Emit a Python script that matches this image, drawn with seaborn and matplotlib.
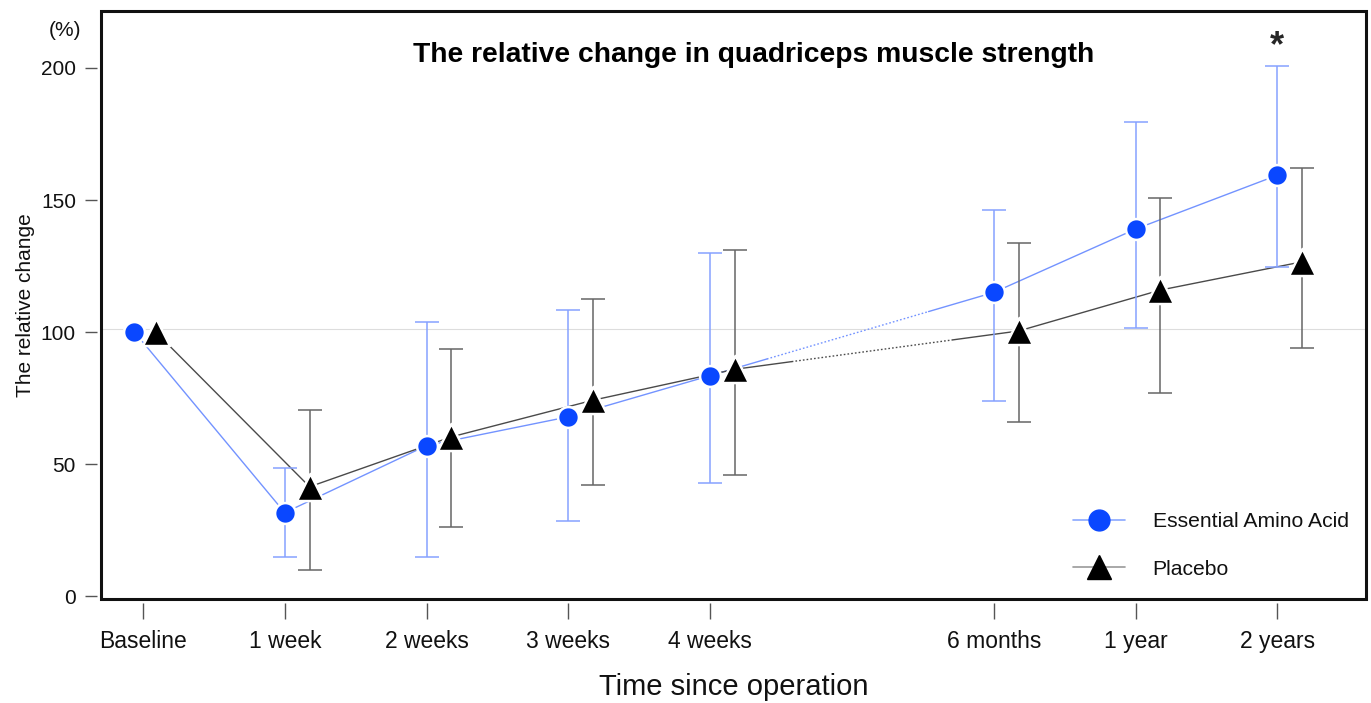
import numpy as np
import pandas as pd
import seaborn as sns
import matplotlib
matplotlib.use("Agg")
import matplotlib.pyplot as plt
from matplotlib.lines import Line2D
from matplotlib.patches import Rectangle

# data
time_labels = ['Baseline', '1 week', '2 weeks', '3 weeks', '4 weeks', '6 months', '1 year', '2 years']
time_pos = [0, 1, 2, 3, 4, 6, 7, 8]

eaa_mean = [100, 31.6, 57.0, 67.9, 83.5, 115.0, 139.0, 159.4]
eaa_upper = [np.nan, 48.5, 103.7, 108.2, 130.0, 146.3, 179.4, 200.8]
eaa_lower = [np.nan, 14.7, 14.9, 28.5, 42.9, 73.7, 101.4, 124.5]

plc_mean = [100, 41.4, 60.3, 74.2, 85.9, 100.4, 115.9, 126.6]
plc_upper = [np.nan, 70.3, 93.7, 112.5, 131.0, 133.8, 150.8, 162.0]
plc_lower = [np.nan, 9.8, 26.0, 42.2, 45.8, 66.0, 76.8, 93.9]

sns.set_theme(style='white')
plt.rcParams['font.family'] = ['Liberation Sans', 'DejaVu Sans']

blue = '#0a47ff'
blue_line = '#7393ff'
blue_err = '#86a2ff'
grey_line = '#4a4a4a'
grey_err = '#666666'
txt = '#111111'

fig = plt.figure(figsize=(13.71, 7.03), dpi=100)
ax = fig.add_axes([101/1371, 1 - 599/703, 1265/1371, 588.3/703])

# small horizontal shifts so the two groups don't overlap
eaa_x = np.array(time_pos, dtype=float) + np.array([-0.06, 0, 0, 0, 0, 0, 0, 0])
plc_x = np.array(time_pos, dtype=float) + np.array([0.09, 0.175, 0.175, 0.175, 0.175, 0.175, 0.175, 0.175])

groups = [
    ('Essential Amino Acid', eaa_x, np.array(eaa_mean), np.array(eaa_lower), np.array(eaa_upper), blue_line, blue_err),
    ('Placebo', plc_x, np.array(plc_mean), np.array(plc_lower), np.array(plc_upper), grey_line, grey_err),
]

ax.axhline(101, color='#dddddd', lw=0.8, zorder=0)

for name, xs, ys, lo, hi, lc, ec in groups:
    # solid parts before and after the time gap
    early = pd.DataFrame({'x': xs[:5], 'y': ys[:5]})
    late = pd.DataFrame({'x': xs[5:], 'y': ys[5:]})
    sns.lineplot(data=early, x='x', y='y', color=lc, lw=1.0, ax=ax, zorder=2, sort=False)
    sns.lineplot(data=late, x='x', y='y', color=lc, lw=1.0, ax=ax, zorder=2, sort=False)
    # gap between 4 weeks and 6 months: short solid ends, dotted middle
    fr = np.array([0, 0.2, 0.77, 1.0])
    gx = xs[4] + fr * (xs[5] - xs[4])
    gy = np.interp(gx, [xs[4], xs[5]], [ys[4], ys[5]])
    ax.plot(gx[:2], gy[:2], color=lc, lw=1.0, zorder=2)
    ax.plot(gx[1:3], gy[1:3], color=lc, lw=1.0, ls=(0, (1.2, 1.5)), zorder=2)
    ax.plot(gx[2:], gy[2:], color=lc, lw=1.0, zorder=2)
    # error bars
    ax.errorbar(xs, ys, yerr=[ys - lo, hi - ys], fmt='none', ecolor=ec,
                elinewidth=1.1, capsize=8.8, capthick=1.1, zorder=3)

sns.scatterplot(x=eaa_x, y=eaa_mean, marker='o', s=15.0**2, color=blue,
                edgecolor='white', linewidth=1.8, ax=ax, zorder=5)
sns.scatterplot(x=plc_x, y=plc_mean, marker='^', s=19.5**2, color='black',
                edgecolor='white', linewidth=1.8, ax=ax, zorder=6)

ax.set_xlim(-0.296, 8.625)
ax.set_ylim(-1.1, 221.7)
ax.set_xticks(time_pos)
ax.set_xticklabels(time_labels)
ax.set_yticks([0, 50, 100, 150, 200])

for s in ax.spines.values():
    s.set_color('none')
ax.spines['left'].set_position(('outward', 3))
ax.spines['bottom'].set_position(('outward', 3))
ax.add_patch(Rectangle((0, 0), 1, 1, transform=ax.transAxes, fill=False,
                       lw=2.2, edgecolor='#111111', clip_on=False, zorder=10))

ax.tick_params(axis='y', direction='out', length=9, width=1.0, color='#555555',
               labelsize=15, pad=6, left=True, labelcolor=txt)
ax.tick_params(axis='x', direction='out', length=11.5, width=1.0, color='#555555',
               labelsize=16.5, pad=8, bottom=True, labelcolor=txt)

ax.set_xlabel('Time since operation', fontsize=21, labelpad=14, color=txt)
ax.set_ylabel('The relative change', fontsize=15, labelpad=4, color=txt)

ax.text(0.516, 0.925, 'The relative change in quadriceps muscle strength',
        transform=ax.transAxes, ha='center', va='center', fontsize=20.3,
        fontweight='bold', color='black')
ax.text(8, 208, '*', ha='center', va='center', fontsize=26, fontweight='bold')
fig.text(65/1371, 1 - 30/703, '(%)', ha='center', va='center', fontsize=15, color=txt)

handles = [
    Line2D([], [], color='#8aa8ff', lw=1.2, marker='o', markersize=15, markerfacecolor=blue,
           markeredgecolor=blue),
    Line2D([], [], color='#999999', lw=1.2, marker='^', markersize=17, markerfacecolor='black',
           markeredgecolor='black'),
]
leg = ax.legend(handles, ['Essential Amino Acid', 'Placebo'], loc='center left',
                bbox_to_anchor=(0.768, 0.091), frameon=False, fontsize=15.2,
                handlelength=2.5, handletextpad=1.3, labelspacing=1.35,
                borderpad=0, borderaxespad=0)
for t in leg.get_texts():
    t.set_color(txt)

fig.savefig('out.png', dpi=100)
